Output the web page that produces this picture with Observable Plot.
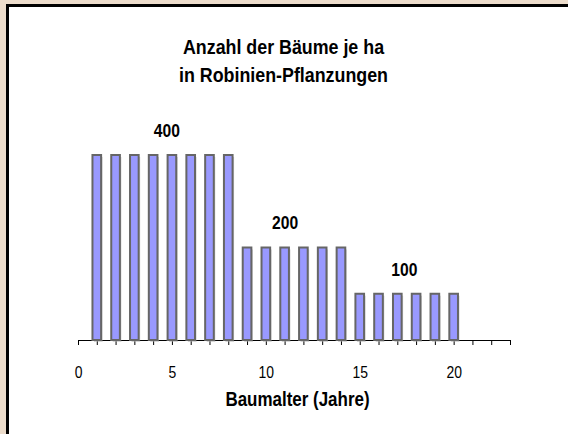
<!DOCTYPE html>
<html>
<head>
<meta charset="utf-8">
<script src="https://cdn.jsdelivr.net/npm/d3@7"></script>
<script src="https://cdn.jsdelivr.net/npm/@observablehq/plot@0.6"></script>
<style>
  html, body { margin: 0; padding: 0; }
  body { width: 568px; height: 434px; background: #ecdccb; position: relative; overflow: hidden; font-family: "Liberation Sans", Arial, sans-serif; }
  #panel { position: absolute; left: 6px; top: 4px; width: 559px; height: 427px; background: #fff; border-left: 3px solid #000; border-top: 3px solid #000; }
  #chart { position: absolute; left: 0; top: 0; }
  #chart svg { background: transparent; overflow: visible; }
</style>
</head>
<body>
<div id="panel"></div>
<div id="chart"></div>
<script>
// Data
const ages = d3.range(1, 21);
const trees = [400,400,400,400,400,400,400,400, 200,200,200,200,200,200, 100,100,100,100,100,100];
const labelAges = [4.7, 11, 17.35];
const labelValues = [400, 200, 100];
const tickValues = d3.range(0, 24);
const tickLabels = [0, 5, 10, 15, 20];
const titleText = "Anzahl der Bäume je ha\nin Robinien-Pflanzungen";
const xTitle = "Baumalter (Jahre)";

const data = ages.map((a, i) => ({age: a, n: trees[i]}));
const labels = labelAges.map((a, i) => ({age: a, n: labelValues[i]}));
const half = 0.23;
const font = "'Liberation Sans', Arial, sans-serif";

const chart = Plot.plot({
  width: 568,
  height: 434,
  marginLeft: 78,
  marginRight: 58,
  marginTop: 155,
  marginBottom: 94,
  style: {fontFamily: font, background: "transparent", color: "#000"},
  x: {domain: [0, 23]},
  y: {domain: [0, 400], axis: null},
  marks: [
    Plot.axisX({
      ticks: tickValues,
      tickFormat: d => tickLabels.includes(d) ? String(d) : "",
      tickSize: 5,
      tickPadding: 21.5,
      fontSize: 16,
      label: null,
      stroke: "#000"
    }),
    Plot.ruleY([0], {stroke: "#000", strokeWidth: 1}),
    Plot.rectY(data, {x1: d => d.age - half, x2: d => d.age + half, y: "n", fill: "#aaa", fillOpacity: 0.5, dx: 1.5, dy: 2}),
    Plot.rectY(data, {x1: d => d.age - half, x2: d => d.age + half, y: "n", fill: "#9999ff", stroke: "#666", strokeWidth: 2}),
    Plot.text(labels, {x: "age", y: "n", text: d => String(d.n), dy: -24.5, fontSize: 18, fontWeight: "bold", fill: "#000"}),
    Plot.text([titleText], {frameAnchor: "top", dx: -11, dy: -122, lineAnchor: "top", lineHeight: 1.38, fontSize: 20.5, fontWeight: "bold", fill: "#000"}),
    Plot.text([xTitle], {frameAnchor: "bottom", dx: 3, dy: 65, fontSize: 19.5, fontWeight: "bold", fill: "#000"})
  ]
});
document.getElementById("chart").appendChild(chart);

// The reference uses a horizontally condensed face: narrow each text around its own centre.
chart.querySelectorAll("text").forEach(t => {
  const bb = t.getBBox();
  if (!bb.width) return;
  const cx = bb.x + bb.width / 2;
  const tr = t.getAttribute("transform") || "";
  t.setAttribute("transform", `${tr} translate(${cx},0) scale(0.87,1) translate(${-cx},0)`);
});
</script>
</body>
</html>
